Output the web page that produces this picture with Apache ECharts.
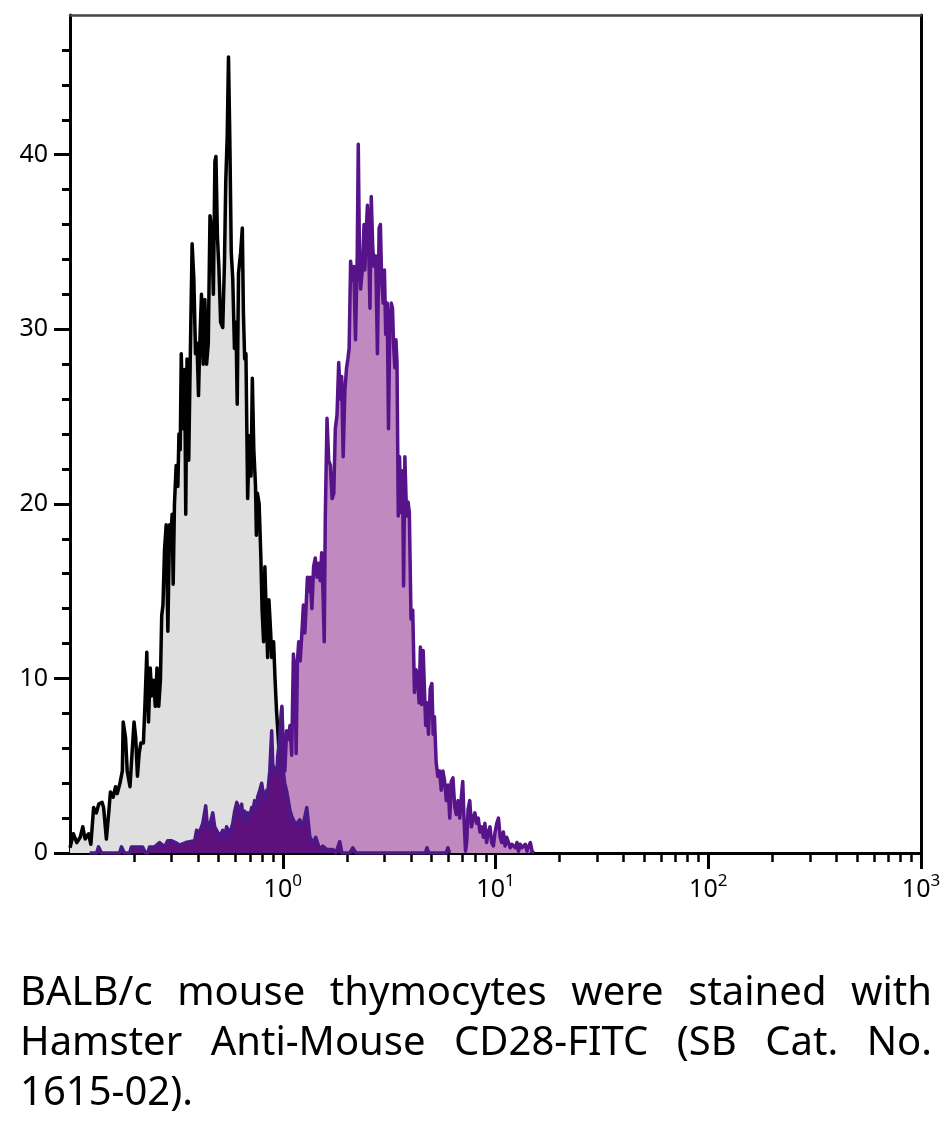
<!DOCTYPE html>
<html>
<head>
<meta charset="utf-8">
<script src="https://cdn.jsdelivr.net/npm/echarts@6/dist/echarts.min.js"></script>
<style>
html, body { margin: 0; padding: 0; background: #fff; }
#wrap { position: relative; width: 952px; height: 1134px; }
#chart { position: absolute; left: 0; top: 0; width: 952px; height: 1134px; }
.caption {
	position: absolute;
	left: 20px;
	width: 912px;
	top: 965px;
	font-family: 'Noto Sans', sans-serif;
	font-size: 40px;
	line-height: 50px;
	color: #000;
}
.caption div { text-align: justify; text-align-last: justify; white-space: nowrap; }
.caption div.last { text-align-last: left; }
</style>
</head>
<body>
<div id="wrap">
	<div id="chart"></div>
	<div class="caption">
		<div>BALB/c mouse thymocytes were stained with</div>
		<div>Hamster Anti-Mouse CD28-FITC (SB Cat. No.</div>
		<div class="last">1615-02).</div>
	</div>
</div>
<script>
// x positions are log10 of fluorescence (decades), y = cell count
var grayLog = [-1.000,-0.984,-0.968,-0.952,-0.940,-0.929,-0.913,-0.902,-0.889,-0.876,-0.865,-0.849,-0.842,-0.829,-0.818,-0.810,-0.797,-0.786,-0.778,-0.765,-0.754,-0.750,-0.739,-0.731,-0.718,-0.710,-0.699,-0.691,-0.683,-0.675,-0.667,-0.655,-0.648,-0.639,-0.631,-0.623,-0.615,-0.607,-0.599,-0.591,-0.583,-0.575,-0.569,-0.563,-0.556,-0.548,-0.540,-0.532,-0.525,-0.520,-0.515,-0.509,-0.501,-0.493,-0.488,-0.482,-0.477,-0.469,-0.461,-0.456,-0.450,-0.442,-0.434,-0.426,-0.418,-0.410,-0.403,-0.396,-0.390,-0.382,-0.374,-0.366,-0.358,-0.350,-0.342,-0.334,-0.326,-0.319,-0.314,-0.307,-0.300,-0.292,-0.282,-0.274,-0.268,-0.261,-0.255,-0.249,-0.242,-0.235,-0.227,-0.220,-0.214,-0.208,-0.198,-0.190,-0.185,-0.179,-0.173,-0.165,-0.157,-0.149,-0.143,-0.136,-0.128,-0.124,-0.119,-0.111,-0.103,-0.097,-0.090,-0.084,-0.078,-0.071,-0.065,-0.057,-0.052,-0.043,-0.036,-0.029,-0.021,-0.010,0.002,0.014,0.022];
var grayCount = [0.3,1.1,0.6,0.9,1.5,0.8,1.1,0.5,2.6,2.3,2.8,2.9,2.6,0.8,2.3,3.5,3.2,3.8,3.4,4.0,4.7,7.5,6.6,4.7,3.8,5.4,7.5,6.6,4.4,5.7,6.3,6.3,8.4,11.5,7.5,10.6,9.0,9.9,8.4,10.6,8.4,9.9,13.6,14.2,17.3,18.8,12.7,18.8,18.2,19.4,15.4,20.0,22.2,21.0,24.0,23.1,28.6,24.3,27.7,19.4,28.3,22.5,28.9,34.9,32.9,28.6,29.2,26.2,29.2,32.0,28.0,31.7,28.0,29.2,36.5,35.6,32.0,39.6,39.9,35.3,33.5,30.4,30.1,33.8,38.4,41.1,45.6,41.1,34.4,32.9,28.9,30.4,25.7,33.2,34.4,35.8,31.0,28.3,28.6,20.3,23.9,21.6,27.2,23.1,21.0,18.2,20.6,20.0,17.0,13.9,12.1,16.4,13.9,11.2,14.5,12.7,11.2,12.1,9.9,8.1,6.6,4.1,2.0,0.5,0];

var stainLog = [-0.037,-0.021,-0.013,-0.004,0.003,0.010,0.018,0.026,0.034,0.042,0.050,0.058,0.063,0.069,0.075,0.082,0.089,0.097,0.104,0.110,0.116,0.123,0.129,0.137,0.145,0.153,0.161,0.168,0.176,0.183,0.189,0.195,0.200,0.208,0.216,0.224,0.232,0.240,0.247,0.255,0.263,0.271,0.277,0.284,0.292,0.300,0.306,0.312,0.319,0.326,0.334,0.342,0.350,0.355,0.361,0.366,0.374,0.382,0.386,0.393,0.398,0.404,0.410,0.416,0.423,0.429,0.437,0.445,0.453,0.459,0.465,0.472,0.478,0.484,0.491,0.497,0.503,0.510,0.516,0.521,0.527,0.532,0.537,0.543,0.549,0.555,0.563,0.568,0.574,0.582,0.589,0.595,0.603,0.611,0.619,0.627,0.634,0.641,0.647,0.653,0.660,0.666,0.672,0.679,0.685,0.693,0.701,0.707,0.713,0.721,0.729,0.737,0.745,0.753,0.761,0.769,0.777,0.785,0.792,0.800,0.808,0.816,0.824,0.832,0.840,0.846,0.852,0.859,0.865,0.871,0.879,0.887,0.895,0.903,0.911,0.919,0.927,0.935,0.943,0.950,0.958,0.966,0.974,0.982,0.990,0.998,1.006,1.014,1.022,1.029,1.037,1.045,1.053,1.061,1.069,1.077,1.085,1.093,1.101,1.108,1.116,1.124,1.132,1.140,1.148,1.156,1.164,1.172,1.180];
var stainCount = [0,3.6,6.8,8.4,6.0,4.7,7.0,6.5,7.3,5.6,11.4,10.1,5.7,11.0,12.1,11.0,12.4,14.2,12.6,14.2,15.8,15.0,15.8,14.0,16.4,16.9,15.8,16.6,15.6,17.2,15.0,12.1,19.3,24.9,22.5,22.2,20.3,20.6,24.3,25.1,28.1,26.0,27.3,22.7,26.5,27.8,28.3,28.9,33.9,32.8,33.6,29.4,34.2,40.6,33.9,32.3,33.4,36.0,33.4,35.8,37.1,34.7,31.2,37.6,34.7,33.6,34.2,28.6,35.8,36.0,32.8,31.5,33.4,29.7,31.5,24.3,30.2,31.5,31.2,29.1,27.8,29.4,28.1,19.3,22.7,19.5,21.9,15.3,22.7,19.3,20.1,19.5,13.4,13.9,9.2,10.5,10.0,8.6,11.8,8.5,11.6,9.4,7.3,8.6,6.8,9.4,9.7,6.8,7.8,5.2,4.4,4.7,3.6,4.7,4.1,3.0,3.9,2.0,4.1,4.3,2.7,2.2,3.0,2.0,3.3,4.1,2.0,0.1,0.7,2.5,3.0,1.5,2.0,2.3,1.7,2.0,1.2,1.5,0.9,1.7,0.6,1.2,1.5,0.6,0.4,1.2,1.7,2.0,0.9,0.6,1.2,0.4,0.9,0.6,0.3,0.5,0.6,0.3,0.6,0.1,0.5,0.3,0.2,0.5,0.1,0.4,0.6,0.1,0];

var lowLog = [-0.908,-0.875,-0.866,-0.852,-0.767,-0.758,-0.744,-0.720,-0.711,-0.682,-0.659,-0.645,-0.635,-0.626,-0.602,-0.579,-0.555,-0.541,-0.522,-0.504,-0.485,-0.456,-0.438,-0.414,-0.405,-0.391,-0.376,-0.362,-0.353,-0.339,-0.329,-0.320,-0.311,-0.296,-0.282,-0.273,-0.264,-0.249,-0.235,-0.226,-0.216,-0.207,-0.202,-0.193,-0.188,-0.179,-0.169,-0.165,-0.155,-0.146,-0.141,-0.132,-0.122,-0.118,-0.108,-0.099,-0.094,-0.085,-0.075,-0.071,-0.061,-0.052,-0.047,-0.038,-0.028,-0.024,-0.014,-0.005,0.000,0.009,0.019,0.033,0.042,0.061,0.080,0.094,0.113,0.127,0.141,0.155,0.174,0.188,0.207,0.235,0.249,0.268,0.278,0.315,0.329,0.344,0.670,0.678,0.686,0.768,0.776,0.784];
var lowCount = [0,0,0.35,0,0,0.35,0,0,0.35,0.35,0.35,0,0,0.35,0.35,0.6,0.35,0.7,0.7,0.6,0.45,0.6,0.65,0.7,1.3,1.2,1.7,2.7,1.3,1.8,2.3,1.5,1.3,0.95,1.3,0.85,1.5,1.1,1.7,2.4,2.9,2.6,2.0,2.8,2.1,2.4,1.7,2.3,2.1,2.6,2.4,3.0,2.6,3.2,3.6,4.0,3.6,3.0,3.6,3.4,4.7,7.0,5.1,4.7,4.4,5.5,6.6,8.3,5.0,4.0,3.5,2.5,2.1,1.6,1.9,1.5,2.6,0.95,0.55,0.9,0.2,0.4,0.2,0.2,0,0.65,0,0,0.3,0,0,0.3,0,0,0.3,0];

var decades = [-1, 0, 1, 2, 3];
var xLabelDecades = [0, 1, 2, 3];
var minorMult = [2, 3, 4, 5, 6, 7, 8, 9];
var yLabels = [0, 10, 20, 30, 40];
var yMinor = [2, 4, 6, 8, 12, 14, 16, 18, 22, 24, 26, 28, 32, 34, 36, 38, 42, 44, 46];

function pairs(xs, ys) {
	var out = [];
	for (var i = 0; i < Math.min(xs.length, ys.length); i++) out.push([xs[i], ys[i]]);
	return out;
}

var xMinor = [];
decades.slice(0, -1).forEach(function(d) {
	minorMult.forEach(function(m) { xMinor.push(d + Math.log10(m)); });
});

var chart = echarts.init(document.getElementById('chart'));
var font = "'Noto Sans', sans-serif";
var noLine = { show: false };

chart.setOption({
	animation: false,
	grid: { left: 70, right: 31, top: 15, height: 838 },
	xAxis: [
		{
			type: 'value', min: -1, max: 3, interval: 1, position: 'bottom',
			axisLine: { onZero: false, lineStyle: { color: '#000', width: 3 } },
			axisTick: { customValues: xLabelDecades, length: 16, lineStyle: { color: '#000', width: 3 } },
			splitLine: noLine,
			axisLabel: {
				margin: 20,
				customValues: xLabelDecades,
				formatter: function(v) { return '{b|10}{s|' + Math.round(v) + '}'; },
				rich: {
					b: { fontFamily: font, fontSize: 25, color: '#000' },
					s: { fontFamily: font, fontSize: 17, color: '#000', padding: [0, 0, 16, 0] }
				}
			}
		},
		{
			type: 'value', min: -1, max: 3, position: 'bottom',
			axisLine: { show: false, onZero: false },
			axisTick: { customValues: xMinor, length: 9, lineStyle: { color: '#000', width: 2.5 } },
			axisLabel: { show: false },
			splitLine: noLine
		},
		{
			type: 'value', min: -1, max: 3, position: 'top',
			axisLine: { onZero: false, lineStyle: { color: '#444', width: 2.5 } },
			axisTick: noLine, axisLabel: noLine, splitLine: noLine
		}
	],
	yAxis: [
		{
			type: 'value', min: 0, max: 48, position: 'left',
			axisLine: { onZero: false, lineStyle: { color: '#000', width: 3 } },
			axisTick: { customValues: yLabels, length: 16, lineStyle: { color: '#000', width: 3 } },
			axisLabel: { customValues: yLabels, margin: 22, fontFamily: font, fontSize: 25, color: '#000' },
			splitLine: noLine
		},
		{
			type: 'value', min: 0, max: 48, position: 'left',
			axisLine: { show: false, onZero: false },
			axisTick: { customValues: yMinor, length: 8, lineStyle: { color: '#000', width: 3 } },
			axisLabel: noLine, splitLine: noLine
		},
		{
			type: 'value', min: 0, max: 48, position: 'right',
			axisLine: { onZero: false, lineStyle: { color: '#000', width: 3 } },
			axisTick: noLine, axisLabel: noLine, splitLine: noLine
		}
	],
	series: [
		{
			name: 'control', type: 'line', xAxisIndex: 0, yAxisIndex: 0,
			showSymbol: false, z: 2,
			data: pairs(grayLog, grayCount),
			lineStyle: { color: '#000', width: 3.5, join: 'round' },
			areaStyle: { color: '#dfdfdf', opacity: 1 }
		},
		{
			name: 'CD28-FITC', type: 'line', xAxisIndex: 0, yAxisIndex: 0,
			showSymbol: false, z: 3,
			data: pairs(stainLog, stainCount),
			lineStyle: { color: '#56138a', width: 3.5, join: 'round' },
			areaStyle: { color: '#c089c0', opacity: 1 }
		},
		{
			name: 'low', type: 'line', xAxisIndex: 0, yAxisIndex: 0,
			showSymbol: false, z: 4,
			data: pairs(lowLog, lowCount),
			lineStyle: { color: '#4c1888', width: 3.5, join: 'round' },
			areaStyle: { color: '#5e107c', opacity: 1 }
		}
	]
});
</script>
</body>
</html>
